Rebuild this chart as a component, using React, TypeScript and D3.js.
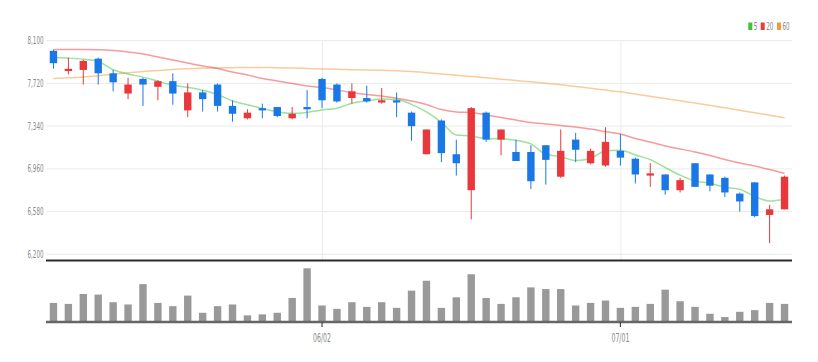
import React from "react";
import * as d3 from "d3";

const opens = [8010, 7830, 7840, 7940, 7810, 7630, 7760, 7690, 7740, 7480, 7640, 7710, 7520, 7410, 7500, 7510, 7410, 7510, 7760, 7710, 7590, 7590, 7550, 7570, 7460, 7090, 7390, 7090, 6770, 7460, 7220, 7110, 7110, 7170, 6890, 7220, 7010, 6990, 7120, 7050, 6900, 6910, 6770, 7010, 6910, 6880, 6740, 6840, 6550, 6600];
const highs = [8020, 7950, 7930, 7950, 7840, 7770, 7770, 7750, 7810, 7720, 7660, 7720, 7570, 7490, 7540, 7510, 7510, 7660, 7770, 7720, 7720, 7700, 7680, 7640, 7470, 7310, 7400, 7220, 7510, 7470, 7310, 7220, 7170, 7170, 7310, 7280, 7140, 7330, 7270, 7060, 7010, 6910, 6880, 7010, 6910, 6890, 6750, 6840, 6640, 6900];
const lows = [7850, 7800, 7710, 7710, 7650, 7580, 7520, 7570, 7530, 7420, 7470, 7470, 7380, 7400, 7410, 7420, 7400, 7410, 7500, 7550, 7540, 7550, 7540, 7420, 7210, 7090, 7020, 6900, 6510, 7200, 7080, 7030, 6780, 6820, 6880, 7020, 7000, 6980, 6990, 6830, 6800, 6730, 6750, 6800, 6760, 6710, 6580, 6530, 6300, 6600];
const closes = [7900, 7850, 7920, 7810, 7730, 7710, 7710, 7740, 7630, 7640, 7580, 7520, 7450, 7460, 7480, 7430, 7450, 7490, 7570, 7560, 7650, 7560, 7570, 7550, 7340, 7310, 7100, 7010, 7500, 7220, 7310, 7030, 6850, 7040, 7120, 7130, 7120, 7200, 7060, 6910, 6920, 6770, 6860, 6800, 6810, 6750, 6670, 6540, 6600, 6890];
const volumes = [183, 173, 273, 267, 190, 167, 373, 183, 150, 257, 83, 150, 167, 57, 67, 83, 233, 533, 157, 123, 190, 143, 190, 133, 307, 407, 133, 240, 473, 233, 173, 240, 340, 323, 323, 157, 183, 207, 133, 143, 173, 317, 200, 143, 73, 40, 93, 110, 183, 173];
const ma5 = [7950, 7945, 7935, 7915, 7842, 7804, 7776, 7740, 7704, 7686, 7660, 7622, 7564, 7530, 7498, 7468, 7454, 7462, 7484, 7500, 7544, 7566, 7582, 7578, 7534, 7466, 7374, 7262, 7252, 7228, 7228, 7214, 7182, 7090, 7070, 7034, 7052, 7122, 7126, 7084, 7042, 6972, 6904, 6852, 6832, 6798, 6778, 6714, 6674, 6690];
const ma20 = [8022, 8022, 8022, 8020, 8013, 8000, 7982, 7955, 7928, 7902, 7875, 7853, 7822, 7795, 7764, 7742, 7719, 7697, 7684, 7661, 7639, 7621, 7608, 7588, 7564, 7532, 7488, 7466, 7461, 7439, 7417, 7395, 7372, 7359, 7346, 7332, 7315, 7291, 7270, 7230, 7199, 7163, 7137, 7110, 7079, 7043, 7012, 6985, 6954, 6919];
const ma60 = [7764, 7770, 7777, 7788, 7801, 7814, 7826, 7835, 7844, 7850, 7854, 7857, 7860, 7862, 7861, 7860, 7857, 7853, 7848, 7845, 7842, 7839, 7837, 7832, 7825, 7815, 7804, 7792, 7782, 7770, 7758, 7746, 7734, 7722, 7708, 7693, 7677, 7661, 7645, 7626, 7605, 7586, 7565, 7546, 7525, 7503, 7481, 7459, 7436, 7414];
const yTicks = [6200, 6580, 6960, 7340, 7720, 8100];
const xTickIndex = [18, 38];
const xTickLabels = ["06/02", "07/01"];
const legendLabels = ["5", "20", "60"];

const UP = "#e8383b";
const DOWN = "#1a78e6";
const MA_COLORS = ["#3cc43c", "#ee3a3a", "#f39a3c"];
const FONT = "'Liberation Sans Narrow', 'DejaVu Sans Condensed', 'Liberation Sans', sans-serif";

export default function App() {
  const W = 818, H = 362;
  const n = closes.length;
  const left = 46, right = 792;
  const x = d3.scalePoint<number>().domain(d3.range(n)).range([left, right]).padding(0.5);
  const y = d3.scaleLinear().domain([6200, 8100]).range([254.3, 40.7]);
  const yv = d3.scaleLinear().domain([0, d3.max(volumes) as number]).range([321, 268.3]);
  const bw = 7.4;
  const fmt = d3.format(",");
  const mkLine = (arr: number[]) =>
    d3.line<number>().x((_, i) => x(i) as number).y((d) => y(d)).curve(d3.curveMonotoneX)(arr) as string;

  return (
    <svg width={W} height={H} style={{ position: "absolute", left: 0, top: 0, background: "#fff" }}>
      {/* grid */}
      {yTicks.map((t) => (
        <line key={"g" + t} x1={left} x2={right} y1={y(t)} y2={y(t)} stroke="#ebebeb" strokeWidth={1} />
      ))}
      {xTickIndex.map((i) => (
        <line key={"v" + i} x1={(x(i) as number) + 0.5} x2={(x(i) as number) + 0.5} y1={y(8100)} y2={260} stroke="#ebebeb" strokeWidth={1} />
      ))}
      {yTicks.map((t) => (
        <text key={"t" + t} x={43.5} y={y(t) + 3.5} textAnchor="end" fontSize={11} fill="#8a8a8a" fontFamily={FONT} textLength={16} lengthAdjust="spacingAndGlyphs">
          {fmt(t)}
        </text>
      ))}
      {/* MA lines */}
      {[ma60, ma20, ma5].map((arr, k) => (
        <path key={"ma" + k} d={mkLine(arr)} fill="none" stroke={MA_COLORS[2 - k]} strokeOpacity={0.5} strokeWidth={1.5} />
      ))}
      {/* candles */}
      {closes.map((c, i) => {
        const o = opens[i];
        const cx = x(i) as number;
        const col = c >= o ? UP : DOWN;
        const top = y(Math.max(o, c));
        const bot = y(Math.min(o, c));
        return (
          <g key={"c" + i}>
            <line x1={cx} x2={cx} y1={y(highs[i])} y2={y(lows[i])} stroke={col} strokeWidth={1} />
            <rect x={cx - bw / 2} y={top} width={bw} height={Math.max(1.5, bot - top)} fill={col} />
          </g>
        );
      })}
      {/* bottom axis of main chart */}
      <line x1={left} x2={right} y1={260.5} y2={260.5} stroke="#2a2a2a" strokeWidth={2} />
      {/* volume */}
      {volumes.map((v, i) => {
        const cx = x(i) as number;
        return <rect key={"v" + i} x={cx - bw / 2} y={yv(v)} width={bw} height={321 - yv(v)} fill="#999" />;
      })}
      <line x1={left} x2={right} y1={322} y2={322} stroke="#666" strokeWidth={2.5} />
      {xTickIndex.map((i, k) => {
        const cx = x(i) as number;
        return (
          <g key={"xt" + i}>
            <line x1={cx} x2={cx} y1={322} y2={327} stroke="#444" strokeWidth={1.2} />
            <text x={cx} y={342} textAnchor="middle" fontSize={12} fill="#8a8a8a" fontFamily={FONT} textLength={18} lengthAdjust="spacingAndGlyphs">
              {xTickLabels[k]}
            </text>
          </g>
        );
      })}
      {/* legend */}
      {legendLabels.map((lab, k) => {
        const lx = [748.3, 760.7, 777][k];
        return (
          <g key={"lg" + k}>
            <rect x={lx} y={22.5} width={4} height={7.5} fill={MA_COLORS[k]} />
            <text x={lx + 5.5} y={30} fontSize={10} fill="#8a8a8a" fontFamily={FONT} textLength={lab.length * 3.6} lengthAdjust="spacingAndGlyphs">
              {lab}
            </text>
          </g>
        );
      })}
    </svg>
  );
}
